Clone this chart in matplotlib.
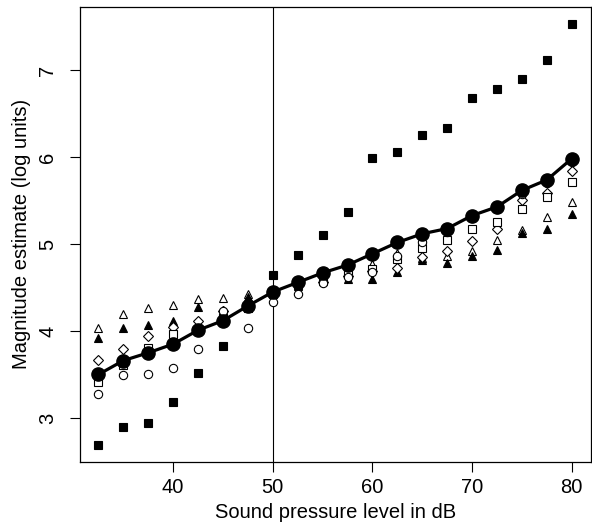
import matplotlib
matplotlib.use("Agg")
import matplotlib.pyplot as plt

plt.rcParams['font.family'] = ['Liberation Sans', 'DejaVu Sans']

spl = [32.5, 35, 37.5, 40, 42.5, 45, 47.5, 50, 52.5, 55, 57.5, 60,
       62.5, 65, 67.5, 70, 72.5, 75, 77.5, 80]

mean_est = [3.50, 3.66, 3.75, 3.85, 4.01, 4.12, 4.29, 4.45, 4.56, 4.67,
            4.76, 4.89, 5.02, 5.12, 5.18, 5.33, 5.43, 5.62, 5.74, 5.985]
open_tri = [4.03, 4.20, 4.26, 4.30, 4.37, 4.38, 4.43, 4.47, 4.58, 4.62,
            4.70, 4.77, 4.90, 4.84, 4.86, 4.92, 5.05, 5.16, 5.31, 5.48]
filled_tri = [3.925, 4.03, 4.07, 4.11, 4.28, 4.24, 4.39, 4.44, 4.52, 4.58,
              4.60, 4.60, 4.68, 4.82, 4.78, 4.86, 4.93, 5.13, 5.17, 5.35]
diamond = [3.67, 3.79, 3.94, 4.045, 4.12, 4.23, 4.31, 4.46, 4.55, 4.56,
           4.63, 4.69, 4.73, 4.85, 4.92, 5.04, 5.17, 5.51, 5.59, 5.84]
open_sq = [3.41, 3.61, 3.80, 3.97, 4.02, 4.15, 4.30, 4.43, 4.53, 4.60,
           4.66, 4.72, 4.83, 4.96, 5.05, 5.17, 5.26, 5.41, 5.54, 5.72]
open_circ = [3.28, 3.49, 3.50, 3.58, 3.79, 4.23, 4.04, 4.33, 4.43, 4.55,
             4.62, 4.68, 4.86, 5.03, 5.14, 5.30, 5.40, 5.58, 5.71, 5.95]
filled_sq = [2.69, 2.89, 2.94, 3.18, 3.52, 3.83, 4.27, 4.645, 4.87, 5.11,
             5.365, 5.99, 6.065, 6.26, 6.34, 6.685, 6.79, 6.90, 7.12, 7.535]

xticks = [40, 50, 60, 70, 80]
yticks = [3, 4, 5, 6, 7]

fig = plt.figure(figsize=(5.92, 5.23), dpi=100)
ax = fig.add_axes([79.5/592, 1 - 461.7/523, (590.7 - 79.5)/592, (461.7 - 6.7)/523])

ax.axvline(50, color='black', lw=0.8, zorder=1)

ms = 6.3
ax.plot(spl, open_tri, linestyle='none', marker='^', ms=ms, mfc='white', mec='black', mew=0.8, zorder=2)
ax.plot(spl, filled_tri, linestyle='none', marker='^', ms=ms, mfc='black', mec='black', mew=0.8, zorder=2)
ax.plot(spl, diamond, linestyle='none', marker='D', ms=ms*0.82, mfc='white', mec='black', mew=0.8, zorder=2)
ax.plot(spl, open_sq, linestyle='none', marker='s', ms=ms*0.85, mfc='white', mec='black', mew=0.8, zorder=2)
ax.plot(spl, open_circ, linestyle='none', marker='o', ms=ms*0.95, mfc='white', mec='black', mew=0.8, zorder=2)
ax.plot(spl, filled_sq, linestyle='none', marker='s', ms=ms*0.85, mfc='black', mec='black', mew=0.8, zorder=2)
ax.plot(spl, mean_est, color='black', lw=2.3, marker='o', ms=9.5, mfc='black', mec='black', zorder=3)

ax.set_xlim(30.6, 81.9)
ax.set_ylim(2.496, 7.734)
ax.set_xticks(xticks)
ax.set_yticks(yticks)
ax.set_yticklabels([str(v) for v in yticks], rotation=90, va='center')
ax.tick_params(axis='both', direction='out', length=7, width=0.8, labelsize=14.5)
ax.tick_params(axis='x', pad=5)
ax.tick_params(axis='y', pad=9)
for s in ax.spines.values():
    s.set_linewidth(0.9)

ax.set_xlabel('Sound pressure level in dB', fontsize=14.5, labelpad=4)
ax.set_ylabel('Magnitude estimate (log units)', fontsize=14.5, labelpad=5)

fig.savefig('out.png', dpi=100)
